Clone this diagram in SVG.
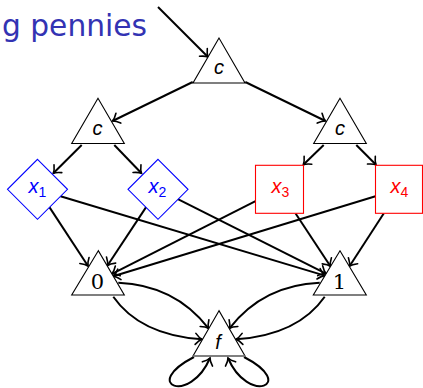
<svg xmlns="http://www.w3.org/2000/svg" width="423" height="388" viewBox="0 0 423 388">
<defs>
<marker id="arr" markerUnits="userSpaceOnUse" viewBox="-8 -7 10 14" markerWidth="10" markerHeight="14" refX="0" refY="0" orient="auto">
<path d="M -6.5,-5.5 C -4,-2.5 -1.5,-0.6 0,0 C -1.5,0.6 -4,2.5 -6.5,5.5" fill="none" stroke="#000" stroke-width="1.6" stroke-linecap="round"/>
</marker>
</defs>
<style>
.tri{fill:#fff;stroke:#000;stroke-width:1.1}
.dia{fill:#fff;stroke:#0000ff;stroke-width:1.1}
.sq{fill:#fff;stroke:#ff0000;stroke-width:1.1}
.e{fill:none;stroke:#000;stroke-width:2;marker-end:url(#arr)}
.lab{font-family:"Liberation Sans","DejaVu Sans",sans-serif;font-style:italic;font-size:20px;fill:#000}
.num{font-family:"DejaVu Serif","Liberation Serif",serif;font-size:21px;fill:#000}
.blue{fill:#0000ff}
.red{fill:#ff0000}
.sub{font-style:normal;font-size:14px}
</style>
<text x="2" y="36" font-family="DejaVu Sans, sans-serif" font-size="29.5" fill="#3333b3" textLength="145" lengthAdjust="spacingAndGlyphs">g pennies</text>
<g id="edges">
<path class="e" d="M 158,7 L 208,57"/>
<path class="e" d="M 192.7,82 L 112.5,121"/>
<path class="e" d="M 245.3,82 L 325.5,121"/>
<path class="e" d="M 81.7,145 L 53.3,173.3"/>
<path class="e" d="M 114.3,145 L 141.5,173.3"/>
<path class="e" d="M 323.7,145 L 303.3,164.8"/>
<path class="e" d="M 356.3,145 L 376,164.8"/>
<path class="e" d="M 49.4,207.1 L 88,266"/>
<path class="e" d="M 60.5,196.2 L 324.8,275.6"/>
<path class="e" d="M 146.1,207.1 L 107.5,265.5"/>
<path class="e" d="M 177.9,199.1 L 326,273.6"/>
<path class="e" d="M 255.5,201.2 L 112,273.8"/>
<path class="e" d="M 375.5,196.3 L 113.2,276.3"/>
<path class="e" d="M 295.6,213.5 L 330.4,266.3"/>
<path class="e" d="M 383.7,213.5 L 349.5,266.2"/>
<path class="e" d="M 118.3,282.7 Q 175,285 208.5,328.3"/>
<path class="e" d="M 113.3,296.7 Q 140,335 202,339.3"/>
<path class="e" d="M 319.7,282.7 Q 263,285 229.5,328.3"/>
<path class="e" d="M 324.7,296.7 Q 298,335 236,339.3"/>
<path class="e" d="M 194,357 C 140,385 190,405 210,358"/>
<path class="e" d="M 244,357 C 298,385 248,405 228,358"/>
</g>
<g id="c_top"><polygon class="tri" points="219,38 193,83 245,83"/><text class="lab" x="219" y="74" text-anchor="middle">c</text></g>
<g id="c_left"><polygon class="tri" points="98,98.3 71.7,143.5 124.3,143.5"/><text class="lab" x="97.5" y="135" text-anchor="middle">c</text></g>
<g id="c_right"><polygon class="tri" points="340,98.3 313.7,143.5 366.3,143.5"/><text class="lab" x="340" y="135" text-anchor="middle">c</text></g>
<g id="x1"><polygon class="dia" points="37.5,159.3 67.5,189.3 37.5,219.3 7.5,189.3"/><text class="lab blue" x="28.5" y="193">x<tspan class="sub" dy="4">1</tspan></text></g>
<g id="x2"><polygon class="dia" points="158,159.3 188,189.3 158,219.3 128,189.3"/><text class="lab blue" x="148.5" y="193">x<tspan class="sub" dy="4">2</tspan></text></g>
<g id="x3"><rect class="sq" x="255.5" y="165.3" width="48" height="48"/><text class="lab red" x="271.5" y="193">x<tspan class="sub" dy="4">3</tspan></text></g>
<g id="x4"><rect class="sq" x="375.5" y="165.3" width="47" height="48"/><text class="lab red" x="390.5" y="193">x<tspan class="sub" dy="4">4</tspan></text></g>
<g id="n0"><polygon class="tri" points="98.3,250.7 71.7,295 124.3,295"/><text class="num" x="97.5" y="289" text-anchor="middle">0</text></g>
<g id="n1"><polygon class="tri" points="340,250.7 313.3,295 366.3,295"/><text class="num" x="339.5" y="289" text-anchor="middle">1</text></g>
<g id="f"><polygon class="tri" points="219,310.7 193,356 245,356"/><line x1="193" y1="356" x2="245" y2="356" stroke="#808080" stroke-width="1.6"/><text class="lab" x="218" y="349" text-anchor="middle" font-size="22">f</text></g>
</svg>
